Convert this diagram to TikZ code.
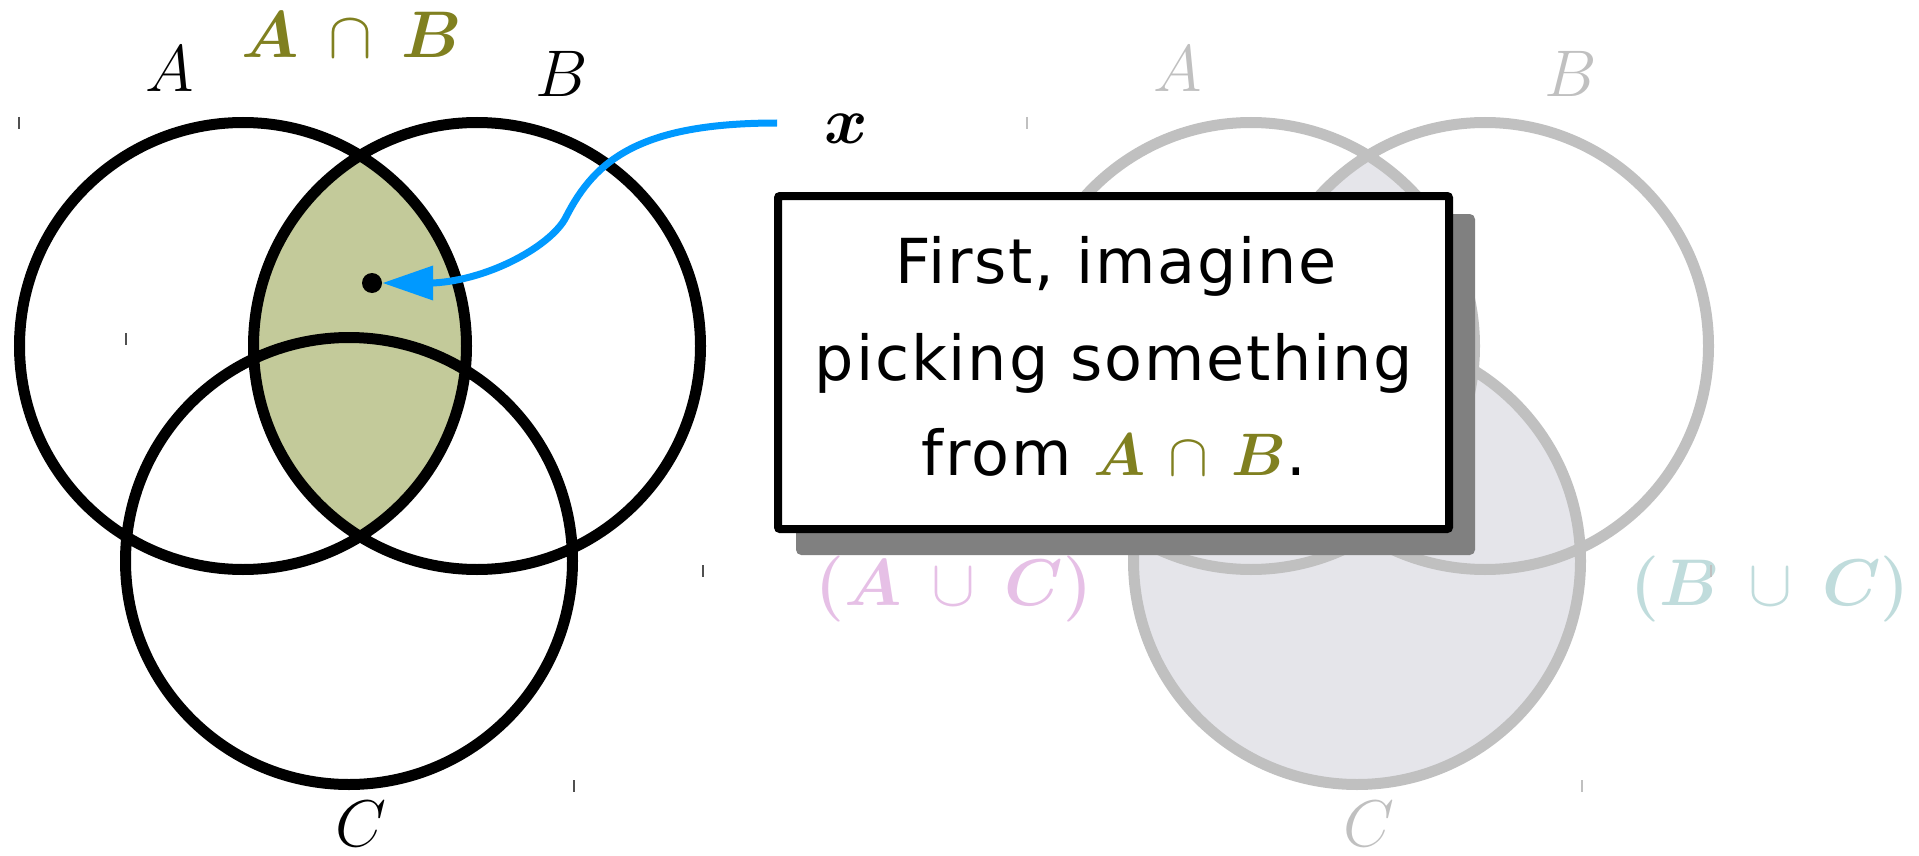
\RequirePackage{fix-cm}
\documentclass[tikz,border=0pt]{standalone}
\usepackage{fontspec}
\usepackage{bm}
\newfontfamily\handfont[LetterSpace=3]{DejaVu Sans}
\usetikzlibrary{arrows.meta,shadows}
\definecolor{olivec}{HTML}{808020}
\definecolor{greenfill}{HTML}{C3CA9A}
\definecolor{arrowblue}{HTML}{0099FF}
\definecolor{ghost}{HTML}{C0C0C0}
\definecolor{ghostfill}{HTML}{E5E5EA}
\definecolor{pinkc}{HTML}{E6C0E6}
\definecolor{tealc}{HTML}{C0DCDC}
\definecolor{shadowc}{HTML}{808080}
\definecolor{tickc}{HTML}{505050}
\begin{document}
\begin{tikzpicture}[x=1pt,y=-1pt,
  setcirc/.style={line width=11pt},
  lbl/.style={anchor=base, inner sep=0pt, font=\fontsize{66}{66}\selectfont},
  msgline/.style={anchor=base, inner sep=0pt, font=\handfont\fontsize{62}{62}\selectfont},
  tickmark/.style={line width=1.3pt},
  rad/.style={radius=223.5pt}
]
\useasboundingbox (0,0) rectangle (1919,856);

% ---------- left diagram ----------
\coordinate (lA) at (243,346);
\coordinate (lB) at (477,346);
\coordinate (lC) at (349,561);
\begin{scope}
  \clip (lA) circle[rad];
  \fill[greenfill] (lB) circle[rad];
\end{scope}
\draw[setcirc] (lA) circle[rad] (lB) circle[rad] (lC) circle[rad];

\node[lbl] (labA) at (170,92) {$A$};
\node[lbl] (labB) at (562,97) {$B$};
\node[lbl, text=olivec] (labAB) at (352,58) {$\bm{A}\mskip4mu\cap\mskip4mu\bm{B}$};
\node[lbl] (labC) at (361,846) {$C$};

% ticks
\draw[tickmark, tickc] (19,117) -- (19,129);
\draw[tickmark, tickc] (126,333) -- (126,345);
\draw[tickmark, tickc] (703,565) -- (703,577);
\draw[tickmark, tickc] (574,780) -- (574,792);

% point and arrow
\node[circle, fill=black, inner sep=0pt, minimum size=20pt] (pt) at (372,283) {};
\node[lbl] (xlab) at (846,143) {$\bm{x}$};
\coordinate (xs) at (777,123);
\draw[arrowblue, line width=7pt, -{Triangle[length=51pt,width=33pt]}]
  (xs) .. controls (640,123) and (595,160) .. (566,217)
       .. controls (552,245) and (490,280) .. (433,283) -- (pt);

% ---------- right diagram ----------
\coordinate (rA) at (1251,346);
\coordinate (rB) at (1485,346);
\coordinate (rC) at (1357,561);
\fill[ghostfill] (rC) circle[rad];
\begin{scope}
  \clip (rA) circle[rad];
  \fill[ghostfill] (rB) circle[rad];
\end{scope}
\draw[setcirc, ghost] (rA) circle[rad] (rB) circle[rad] (rC) circle[rad];

\node[lbl, text=ghost] (rlabA) at (1178,92) {$A$};
\node[lbl, text=ghost] (rlabB) at (1571,97) {$B$};
\node[lbl, text=ghost] (rlabC) at (1369,846) {$C$};
\node[lbl, text=pinkc] (labAC) at (954,605) {$\bm{(}\bm{A}\mskip4mu\cup\mskip4mu\bm{C}\bm{)}$};
\node[lbl, text=tealc] (labBC) at (1770,605) {$\bm{(}\bm{B}\mskip4mu\cup\mskip4mu\bm{C}\bm{)}$};

\draw[tickmark, ghost] (1711,565) -- (1711,577);
\draw[tickmark, ghost] (1582,780) -- (1582,792);
\draw[tickmark, ghost] (1027,117) -- (1027,129);

% ---------- message box ----------
\node[draw=black, fill=white, line width=8pt, rounded corners=2pt,
      minimum width=671pt, minimum height=333pt, inner sep=0pt,
      drop shadow={shadow xshift=22pt, shadow yshift=-22pt, fill=shadowc,
                   draw=shadowc, line width=8pt, opacity=1}]
  (box) at (1113.5,362.5) {};
\node[msgline] (line1) at (1116,283) {First, imagine};
\node[msgline] (line2) at (1114,380) {picking something};
\node[msgline] (line3) at (1114,475) {from {\fontsize{60}{60}\selectfont\color{olivec}$\bm{A}\mskip3mu\cap\mskip3mu\bm{B}$}.};
\end{tikzpicture}
\end{document}
